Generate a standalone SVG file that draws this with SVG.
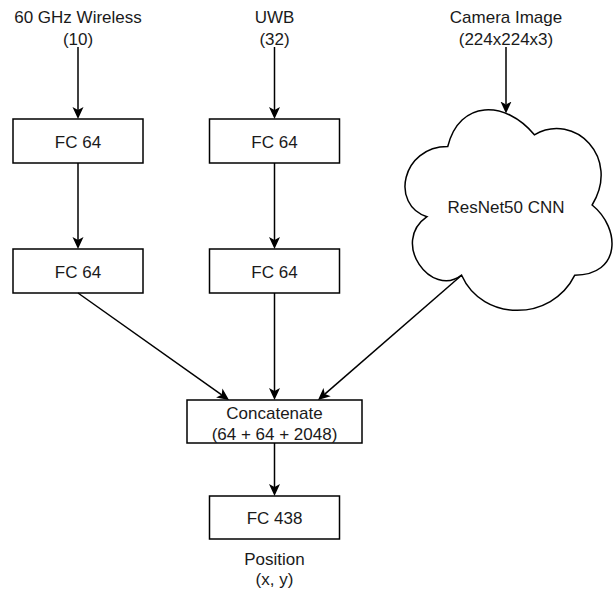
<svg xmlns="http://www.w3.org/2000/svg" width="613" height="590" viewBox="0 0 613 590">
  <style>
    .box { fill: #ffffff; stroke: #000000; stroke-width: 1.5; }
    .edge { fill: none; stroke: #000000; stroke-width: 1.5; marker-end: url(#arrow); }
    text { font-family: "Liberation Sans", Arial, Helvetica, sans-serif; font-size: 17px; fill: #1a1a1a; text-anchor: middle; }
  </style>
  <defs>
    <marker id="arrow" viewBox="0 0 12 12" refX="3" refY="6" markerWidth="12" markerHeight="12" markerUnits="userSpaceOnUse" orient="auto">
      <path d="M0,0.5 L12,6 L0,11.5 L3,6 Z" fill="#000000"/>
    </marker>
  </defs>
  <rect width="613" height="590" fill="#ffffff"/>

  <!-- inputs -->
  <g id="input-wireless">
    <text x="78" y="23">60 GHz Wireless</text>
    <text x="78" y="44.5">(10)</text>
  </g>
  <g id="input-uwb">
    <text x="274.5" y="23">UWB</text>
    <text x="274.5" y="44.5">(32)</text>
  </g>
  <g id="input-camera">
    <text x="506" y="23">Camera Image</text>
    <text x="506" y="44.5">(224x224x3)</text>
  </g>

  <!-- fully connected layers -->
  <g id="fc-wireless-1">
    <rect class="box" x="13" y="119" width="130" height="44"/>
    <text x="78" y="147.5">FC 64</text>
  </g>
  <g id="fc-wireless-2">
    <rect class="box" x="13" y="249" width="130" height="44"/>
    <text x="78" y="277.5">FC 64</text>
  </g>
  <g id="fc-uwb-1">
    <rect class="box" x="209.5" y="119" width="130" height="44"/>
    <text x="274.5" y="147.5">FC 64</text>
  </g>
  <g id="fc-uwb-2">
    <rect class="box" x="209.5" y="249" width="130" height="44"/>
    <text x="274.5" y="277.5">FC 64</text>
  </g>

  <!-- CNN backbone -->
  <g id="resnet">
    <path class="box" d="M447.75,146.5 C401.55,146.5 390,205 426.96,216.7 C390,242.44 431.58,298.6 461.61,275.2 C482.4,322 551.7,322 574.8,275.2 C621,275.2 621,228.4 592.13,205 C621,158.2 574.8,111.4 534.38,134.8 C505.5,99.7 459.3,99.7 447.75,146.5 Z"/>
    <text x="506" y="212.5">ResNet50 CNN</text>
  </g>

  <!-- fusion and output -->
  <g id="concat">
    <rect class="box" x="187" y="400" width="175" height="43"/>
    <text x="274.5" y="418.5">Concatenate</text>
    <text x="274.5" y="439.5">(64 + 64 + 2048)</text>
  </g>
  <g id="fc-out">
    <rect class="box" x="209.5" y="496" width="130" height="43"/>
    <text x="274.5" y="524">FC 438</text>
  </g>
  <g id="output">
    <text x="274.5" y="565">Position</text>
    <text x="274.5" y="585">(x, y)</text>
  </g>

  <!-- connectors -->
  <g id="connectors">
    <path class="edge" d="M78,47 L78,110"/>
    <path class="edge" d="M274.5,47 L274.5,110"/>
    <path class="edge" d="M506,47 L506,104.5"/>
    <path class="edge" d="M78,163 L78,240"/>
    <path class="edge" d="M274.5,163 L274.5,240"/>
    <path class="edge" d="M78,293 L221.7,394.8"/>
    <path class="edge" d="M274.5,293 L274.5,391"/>
    <path class="edge" d="M461.6,275.2 L324.8,394.1"/>
    <path class="edge" d="M274.5,443 L274.5,487"/>
  </g>
</svg>
